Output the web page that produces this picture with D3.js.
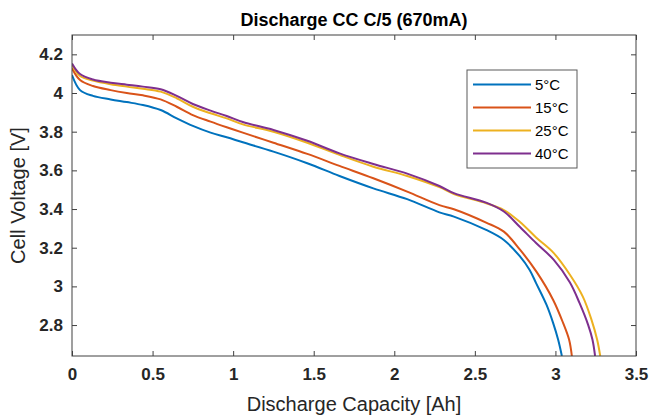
<!DOCTYPE html>
<meta charset="utf-8">
<script src="https://d3js.org/d3.v7.min.js"></script>
<style>
body { margin: 0; background: #fff; }
svg { font-family: "Liberation Sans", Arial, sans-serif; }
.axis text { font-size: 17px; font-weight: bold; fill: #262626; }
.axis line { stroke: #404040; stroke-width: 1px; }
.axis path { display: none; }
.frame { fill: none; stroke: #404040; stroke-width: 1px; }
.curve { fill: none; stroke-width: 2px; }
.legendBox { fill: white; stroke: #5a5a5a; stroke-width: 1px; }
.legend text { font-size: 15px; fill: #000; }
</style>
<body></body>
<script>
// capacity [Ah] / voltage [V]
const cap5  = [0, 0.05, 0.13, 0.24, 0.34, 0.44, 0.55, 0.65, 0.75, 0.86, 0.96, 1.06, 1.25, 1.46, 1.66, 1.87, 2.08, 2.28, 2.37, 2.57, 2.68, 2.78, 2.84, 2.88, 2.945, 2.986, 3.017, 3.04];
const volt5 = [4.093, 4.015, 3.985, 3.967, 3.953, 3.938, 3.912, 3.869, 3.83, 3.795, 3.771, 3.745, 3.697, 3.637, 3.571, 3.507, 3.451, 3.383, 3.361, 3.292, 3.24, 3.155, 3.085, 3.017, 2.904, 2.81, 2.724, 2.64];

const cap15  = [0, 0.05, 0.13, 0.24, 0.34, 0.44, 0.55, 0.65, 0.75, 0.86, 0.96, 1.06, 1.25, 1.46, 1.66, 1.87, 2.08, 2.28, 2.37, 2.57, 2.68, 2.78, 2.883, 2.986, 3.048, 3.085, 3.102];
const volt15 = [4.128, 4.067, 4.036, 4.015, 4.0, 3.988, 3.967, 3.929, 3.886, 3.852, 3.823, 3.795, 3.743, 3.685, 3.623, 3.559, 3.49, 3.42, 3.399, 3.33, 3.283, 3.19, 3.075, 2.93, 2.81, 2.724, 2.64];

const cap25  = [0, 0.05, 0.13, 0.24, 0.34, 0.44, 0.55, 0.65, 0.75, 0.86, 0.96, 1.06, 1.25, 1.46, 1.66, 1.87, 2.08, 2.28, 2.37, 2.57, 2.68, 2.78, 2.88, 2.99, 3.09, 3.17, 3.224, 3.259, 3.278];
const volt25 = [4.145, 4.088, 4.064, 4.045, 4.033, 4.022, 4.007, 3.973, 3.929, 3.895, 3.869, 3.838, 3.80, 3.743, 3.68, 3.619, 3.571, 3.513, 3.478, 3.43, 3.395, 3.333, 3.253, 3.172, 3.06, 2.947, 2.827, 2.724, 2.64];

const cap40  = [0, 0.05, 0.13, 0.24, 0.34, 0.44, 0.55, 0.65, 0.75, 0.86, 0.96, 1.06, 1.25, 1.46, 1.66, 1.87, 2.08, 2.28, 2.37, 2.57, 2.68, 2.78, 2.88, 2.99, 3.09, 3.15, 3.203, 3.23, 3.246];
const volt40 = [4.153, 4.098, 4.07, 4.053, 4.043, 4.033, 4.019, 3.985, 3.943, 3.909, 3.881, 3.85, 3.809, 3.753, 3.688, 3.633, 3.583, 3.519, 3.482, 3.433, 3.387, 3.307, 3.224, 3.137, 3.02, 2.913, 2.801, 2.724, 2.64];

const seriesNames = ["5°C", "15°C", "25°C", "40°C"];
const seriesColors = ["#0072BD", "#D95319", "#EDB120", "#7E2F8E"];
const xTicks = [0, 0.5, 1, 1.5, 2, 2.5, 3, 3.5];
const yTicks = [2.8, 3, 3.2, 3.4, 3.6, 3.8, 4, 4.2];

const series = [[cap5, volt5], [cap15, volt15], [cap25, volt25], [cap40, volt40]]
  .map((s, i) => ({
    name: seriesNames[i],
    color: seriesColors[i],
    points: s[0].map((c, j) => [c, s[1][j]])
  }));

const outerWidth = 652;
const outerHeight = 419;
const margin = {top: 35, right: 16, bottom: 63, left: 72};
const innerWidth = outerWidth - margin.left - margin.right;
const innerHeight = outerHeight - margin.top - margin.bottom;

const SVG = d3.select("body").append("svg")
  .attr("width", outerWidth)
  .attr("height", outerHeight);

const svg = SVG.append("g")
  .attr("transform", "translate(" + margin.left + "," + margin.top + ")");

const xScale = d3.scaleLinear().domain([0, 3.5]).range([0, innerWidth]);
const yScale = d3.scaleLinear().domain([2.64, 4.3]).range([innerHeight, 0]);

const fmt = d3.format("~g");

// axes, ticks inward on all four sides
svg.append("g").attr("class", "x axis")
  .attr("transform", "translate(0," + innerHeight + ")")
  .call(d3.axisBottom(xScale).tickValues(xTicks).tickFormat(fmt).tickSize(-5).tickPadding(12));
svg.append("g").attr("class", "x axis")
  .call(d3.axisTop(xScale).tickValues(xTicks).tickSize(-5))
  .selectAll("text").remove();
svg.append("g").attr("class", "y axis")
  .call(d3.axisLeft(yScale).tickValues(yTicks).tickFormat(fmt).tickSize(-5).tickPadding(9));
svg.append("g").attr("class", "y axis")
  .attr("transform", "translate(" + innerWidth + ",0)")
  .call(d3.axisRight(yScale).tickValues(yTicks).tickSize(-5))
  .selectAll("text").remove();

svg.append("clipPath").attr("id", "plotClip")
  .append("rect").attr("width", innerWidth).attr("height", innerHeight);

const line = d3.line()
  .x(d => xScale(d[0]))
  .y(d => yScale(d[1]))
  .curve(d3.curveCatmullRom.alpha(0.5));

svg.append("g").attr("clip-path", "url(#plotClip)")
  .selectAll("path").data(series).enter().append("path")
  .attr("class", "curve")
  .attr("stroke", d => d.color)
  .attr("d", d => line(d.points));

svg.append("rect").attr("class", "frame")
  .attr("width", innerWidth).attr("height", innerHeight);

// title + axis labels
SVG.append("text")
  .attr("x", margin.left + innerWidth / 2)
  .attr("y", 26)
  .attr("text-anchor", "middle")
  .style("font-size", "18px")
  .style("font-weight", "bold")
  .text("Discharge CC C/5 (670mA)");

SVG.append("text")
  .attr("x", margin.left + innerWidth / 2)
  .attr("y", 411)
  .attr("text-anchor", "middle")
  .style("font-size", "20px")
  .style("fill", "#262626")
  .text("Discharge Capacity [Ah]");

SVG.append("text")
  .attr("transform", "translate(25," + (margin.top + innerHeight / 2) + ") rotate(-90)")
  .attr("text-anchor", "middle")
  .style("font-size", "20px")
  .style("fill", "#262626")
  .text("Cell Voltage [V]");

// legend
const legend = SVG.append("g").attr("class", "legend")
  .attr("transform", "translate(467,70)");

legend.append("rect").attr("class", "legendBox")
  .attr("width", 110).attr("height", 98);

const item = legend.selectAll(".item").data(series).enter().append("g")
  .attr("class", "item")
  .attr("transform", (d, i) => "translate(0," + (14.5 + i * 23) + ")");

item.append("line")
  .attr("x1", 6).attr("x2", 64)
  .attr("stroke", d => d.color)
  .attr("stroke-width", 2);

item.append("text")
  .attr("x", 68)
  .attr("dy", "0.36em")
  .text(d => d.name);
</script>
